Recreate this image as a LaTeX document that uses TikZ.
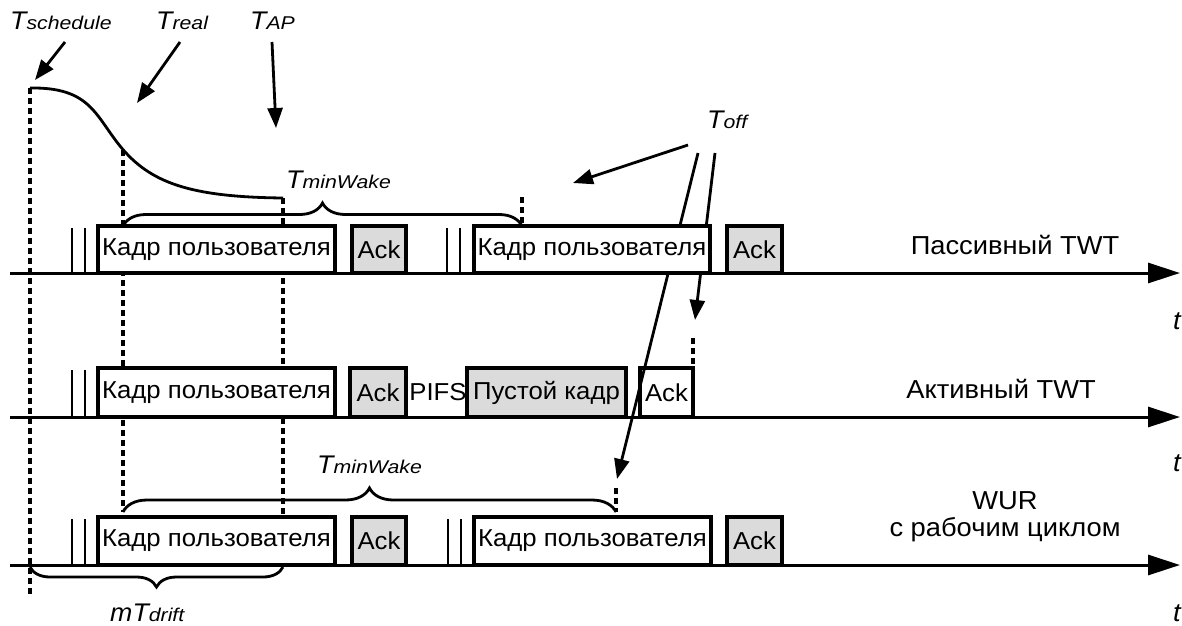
\documentclass[tikz,border=0pt]{standalone}
\usepackage{fontspec}
\setmainfont[FakeStretch=1.05]{Liberation Sans}
\newfontfamily\subf[FakeStretch=1.15]{Liberation Sans}
\usetikzlibrary{arrows.meta,decorations.pathreplacing}
\newcommand{\lbsub}[1]{{\subf\itshape\fontsize{18.5}{20}\selectfont #1}}
\newcommand{\bigT}{{\itshape\fontsize{25.5}{28}\selectfont T}}
\begin{document}
\begin{tikzpicture}[x=1pt,y=-1pt,
  every node/.style={font=\fontsize{24.5}{28}\selectfont},
  axis/.style={line width=3pt,-{Triangle[length=32pt,width=20pt]}},
  arr/.style={line width=2.8pt,-{Triangle[length=20pt,width=15pt]}},
  dsh/.style={line width=3.4pt,dash pattern=on 6pt off 4pt},
  bar/.style={line width=2.8pt},
  brc/.style={line width=2.8pt,decorate},
  fr/.style={draw,line width=3.2pt,fill=white,inner sep=0pt,outer sep=0pt,minimum height=47pt,anchor=south west},
  ack/.style={fr,fill=black!14},
  rowlbl/.style={inner sep=0pt,font=\fontsize{26}{30}\selectfont},
  lbl/.style={inner sep=0pt,anchor=base west},
  tl/.style={inner sep=0pt,anchor=base east,font=\itshape\fontsize{26}{28}\selectfont}]
\useasboundingbox (0,0) rectangle (1182,625);

% coordinates
\coordinate (c0) at (30,88);
\coordinate (cR) at (123,150);
\coordinate (cE) at (283,198);

% dashed verticals
\draw[dsh] (c0) -- (30,597);
\draw[dsh] (cR) -- (123,512);
\draw[dsh] (cE) -- (283,517);
\draw[dsh] (522,197) -- (522,225);
\draw[dsh] (616,488) -- (616,512);
\draw[dsh] (693,338) -- (693,368);

% curve
\draw[line width=2.8pt] (c0) .. controls (90,87) and (95,115) .. (120,146)
  .. controls (150,183) and (190,197) .. (cE);

% braces
\draw[brc,decoration={brace,amplitude=23pt}] (123,226) -- (522,226);
\draw[brc,decoration={brace,amplitude=24pt}] (123,512) -- (616,512);
\draw[brc,decoration={brace,amplitude=20pt}] (283,567) -- (30,567);

% top labels
\node[lbl] (lS) at (10,29) {\bigT\lbsub{schedule}};
\node[lbl] (lR) at (156,29) {\bigT\lbsub{real}};
\node[lbl] (lA) at (250,29) {\bigT\lbsub{AP}};
\node[lbl] (lO) at (707,128) {\bigT\lbsub{off}};
\node[lbl] (lW1) at (286,188) {\bigT\lbsub{minWake}};
\node[lbl] (lW3) at (317,473) {\bigT\lbsub{minWake}};
\node[lbl] (lD) at (110,621) {{\itshape\fontsize{25.5}{28}\selectfont mT}\lbsub{drift}};

% arrows
\coordinate (sS) at (65,42);  \coordinate (eS) at (35,80);
\coordinate (sR) at (180,42); \coordinate (eR) at (137,103);
\coordinate (sA) at (272,42); \coordinate (eA) at (276,128);
\coordinate (o1s) at (688,145); \coordinate (o1e) at (573,183);
\coordinate (o2s) at (698,153); \coordinate (o2e) at (617,479);
\coordinate (o3s) at (715,153); \coordinate (o3e) at (695,320);
\draw[arr] (sS) -- (eS);
\draw[arr] (sR) -- (eR);
\draw[arr] (sA) -- (eA);
\draw[arr] (o1s) -- (o1e);
\draw[arr] (o2s) -- (o2e);
\draw[arr] (o3s) -- (o3e);

% axes
\draw[axis] (10,273) -- (1180,273);
\draw[axis] (10,417) -- (1180,417);
\draw[axis] (10,565) -- (1180,565);

% bars
\foreach \x in {72,85} {
  \draw[bar] (\x,228) -- (\x,273);
  \draw[bar] (\x,370) -- (\x,417);
  \draw[bar] (\x,519) -- (\x,565);
}
\foreach \x in {447,460} {
  \draw[bar] (\x,228) -- (\x,273);
}
\foreach \x in {448,461} {
  \draw[bar] (\x,519) -- (\x,565);
}

% row 1
\node[fr,minimum width=237pt] (f1a) at (98,273) {Кадр пользователя};
\node[ack,minimum width=54pt] (a1a) at (352,273) {Ack};
\node[fr,minimum width=236pt] (f1b) at (474,273) {Кадр пользователя};
\node[ack,minimum width=55pt] (a1b) at (727,273) {Ack};
\node[rowlbl] (r1) at (1015,245) {Пассивный TWT};
\node[tl] (t1) at (1181,329) {t};

% row 2
\node[fr,minimum width=237pt,minimum height=49pt] (f2a) at (98,417) {Кадр пользователя};
\node[ack,minimum width=56pt,minimum height=49pt] (a2a) at (350,417) {Ack};
\node[inner sep=0pt] (pifs) at (438,392) {PIFS};
\node[ack,minimum width=159pt,minimum height=49pt] (e2) at (467,417) {Пустой кадр};
\node[fr,fill=none,minimum width=53pt,minimum height=49pt] (a2b) at (640,417) {Ack};
\node[rowlbl] (r2) at (1001,389) {Активный TWT};
\node[tl] (t2) at (1181,471) {t};

% row 3
\node[fr,minimum width=237pt,minimum height=48pt] (f3a) at (98,565) {Кадр пользователя};
\node[ack,minimum width=54pt,minimum height=48pt] (a3a) at (352,565) {Ack};
\node[fr,minimum width=237pt,minimum height=48pt] (f3b) at (474,565) {Кадр пользователя};
\node[ack,minimum width=55pt,minimum height=48pt] (a3b) at (727,565) {Ack};
\node[rowlbl,align=center] (r3) at (1005,517) {WUR\\[-3pt]с рабочим циклом};
\node[tl] (t3) at (1181,621) {t};
\end{tikzpicture}
\end{document}
